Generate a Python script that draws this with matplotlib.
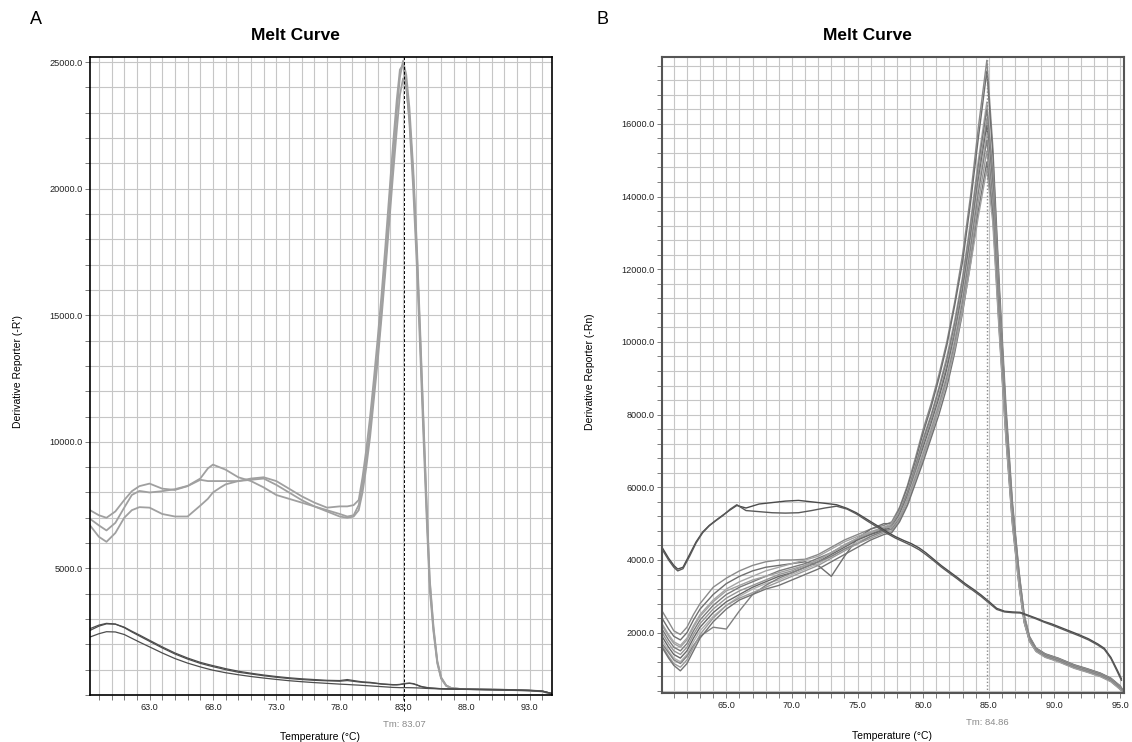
import matplotlib
matplotlib.use("Agg")
import matplotlib.pyplot as plt
from matplotlib.ticker import MultipleLocator, FixedLocator, FormatStrFormatter

plt.rcParams['font.family'] = ['Liberation Sans', 'DejaVu Sans']

# ---------------- panel A data ----------------
temp_a = [58.3, 59.0, 59.6, 60.3, 61.0, 61.6, 62.2, 63.0, 64.0, 65.0, 66.0, 67.0, 67.6, 68.0,
          68.6, 69.0, 70.0, 71.0, 72.0, 73.0, 74.0, 75.0, 76.0, 77.0, 78.0, 78.6, 79.1,
          79.5, 79.8, 80.1, 80.4, 80.7, 81.0, 81.3, 81.6, 81.9, 82.2, 82.5, 82.75, 83.0,
          83.25, 83.5, 83.8, 84.1, 84.35, 84.6, 84.85, 85.1, 85.4, 85.7, 86.0, 86.4, 86.8,
          87.5, 88.5, 90.0, 91.5, 93.0, 94.0, 94.75]

# product peak curves (light)
a_light1 = [6960, 6700, 6500, 6800, 7400, 7900, 8060, 8000, 8050, 8130, 8260, 8550, 8950, 9100,
            8980, 8900, 8600, 8450, 8200, 7900, 7750, 7600, 7450, 7300, 7150, 7050, 7100,
            7500, 8300, 9300, 10500, 12000, 13500, 15200, 17000, 19000, 21000, 23000, 24400, 25050,
            24500, 23200, 20800, 17600, 14400, 11000, 7700, 4600, 2700, 1350, 700, 380, 280,
            240, 230, 220, 200, 180, 150, 40]
a_light2 = [7300, 7100, 7000, 7250, 7700, 8050, 8250, 8350, 8150, 8100, 8250, 8500, 8450, 8450,
            8450, 8450, 8450, 8550, 8600, 8450, 8150, 7850, 7600, 7400, 7450, 7450, 7500,
            7700, 8600, 9700, 11000, 12500, 14100, 15800, 17700, 19700, 21700, 23500, 24700, 24900,
            24100, 22600, 20000, 16800, 13600, 10300, 7100, 4200, 2500, 1250, 650, 360, 270,
            235, 225, 215, 195, 175, 140, 40]
a_light3 = [6700, 6250, 6050, 6400, 7000, 7300, 7420, 7400, 7150, 7050, 7050, 7480, 7750, 8000,
            8200, 8320, 8450, 8500, 8550, 8300, 8000, 7700, 7450, 7250, 7050, 7000, 7050,
            7300, 8000, 9000, 10200, 11700, 13200, 14900, 16700, 18600, 20500, 22300, 23700, 24350,
            24000, 22800, 20500, 17300, 14100, 10800, 7500, 4500, 2600, 1300, 680, 370, 275,
            238, 228, 218, 198, 178, 145, 40]

# negative / background curves (dark)
a_dark1 = [2550, 2720, 2810, 2800, 2680, 2520, 2370, 2160, 1900, 1660, 1460, 1290, 1210, 1160,
           1090, 1040, 940, 860, 790, 730, 680, 640, 610, 580, 570, 610, 570,
           540, 520, 510, 500, 480, 460, 440, 430, 420, 410, 410, 420, 440,
           460, 470, 450, 400, 350, 320, 300, 280, 270, 260, 250, 245, 240,
           235, 225, 215, 200, 180, 150, 60]
a_dark2 = [2620, 2760, 2830, 2800, 2660, 2490, 2330, 2120, 1860, 1620, 1420, 1250, 1170, 1120,
           1050, 1000, 900, 830, 760, 700, 650, 610, 580, 560, 545, 570, 540,
           515, 500, 490, 480, 465, 450, 430, 420, 410, 400, 400, 410, 430,
           450, 460, 440, 390, 340, 310, 290, 275, 265, 255, 248, 242, 238,
           232, 222, 212, 198, 178, 148, 55]
a_dark3 = [2290, 2420, 2500, 2490, 2390, 2240, 2090, 1900, 1660, 1440, 1260, 1110, 1030, 980,
           920, 880, 800, 730, 670, 615, 565, 525, 490, 460, 430, 415, 400,
           390, 380, 370, 360, 350, 340, 330, 320, 310, 300, 295, 290, 290,
           290, 288, 285, 280, 275, 268, 260, 255, 250, 245, 240, 235, 232,
           228, 220, 208, 195, 175, 145, 50]

tm_a = 83.07

# ---------------- panel B data ----------------
temp_b = [60.1, 60.6, 61.0, 61.5, 62.0, 62.5, 63.0, 64.0, 65.0, 66.0, 67.0, 68.0, 69.0, 70.0,
          71.0, 72.0, 73.0, 74.0, 75.0, 76.0, 77.0,
          77.6, 78.2, 78.8, 79.4, 80.0, 80.6, 81.2, 81.8, 82.4, 83.0, 83.6, 84.2, 84.85, 85.3,
          85.8, 86.3, 86.8, 87.3, 87.7, 88.1, 88.6, 89.3, 90.3, 91.5, 92.5, 93.5, 94.3, 95.0, 95.3]

b_g01 = [2600, 2300, 2050, 1950, 2150, 2500, 2800, 3250, 3500, 3700, 3850, 3950, 4000, 4000,
         4020, 4150, 4350, 4550, 4700, 4850, 4950,
         5050, 5450, 6050, 6800, 7600, 8300, 9100, 10000, 11100, 12400, 14000, 15900, 17750, 15400,
         11600, 8300, 5600, 3700, 2500, 1900, 1580, 1420, 1300, 1120, 1010, 890, 750, 540, 380]
b_g02 = [2400, 2100, 1900, 1800, 2000, 2350, 2650, 3050, 3350, 3550, 3700, 3800, 3850, 3900,
         3950, 3850, 3550, 4100, 4600, 4850, 5000,
         5000, 5400, 6000, 6700, 7500, 8200, 9000, 9900, 11000, 12200, 13800, 15600, 17450, 15200,
         11400, 8100, 5500, 3650, 2450, 1880, 1570, 1410, 1290, 1110, 1000, 880, 740, 530, 370]
b_g03 = [2250, 1950, 1750, 1650, 1850, 2200, 2500, 2900, 3200, 3400, 3550, 3700, 3800, 3900,
         4000, 4100, 4300, 4500, 4650, 4780, 4900,
         5000, 5350, 5900, 6600, 7350, 8000, 8750, 9600, 10600, 11800, 13300, 15000, 16600, 14800,
         11200, 8000, 5400, 3600, 2450, 1870, 1560, 1400, 1280, 1100, 990, 870, 730, 520, 360]
b_g04 = [2100, 1800, 1600, 1500, 1700, 2050, 2350, 2750, 3050, 3250, 3400, 3550, 3700, 3800,
         3900, 4050, 4200, 4400, 4580, 4720, 4850,
         4950, 5300, 5850, 6550, 7300, 7950, 8700, 9500, 10500, 11700, 13150, 14850, 16400, 14600,
         11000, 7900, 5300, 3550, 2400, 1850, 1550, 1390, 1270, 1090, 980, 860, 720, 510, 350]
b_g05 = [2000, 1700, 1500, 1400, 1600, 1950, 2250, 2650, 2950, 3150, 3300, 3450, 3600, 3700,
         3850, 4000, 4200, 4420, 4600, 4750, 4880,
         4950, 5300, 5800, 6500, 7200, 7850, 8550, 9350, 10350, 11550, 13000, 14650, 16150, 14400,
         10900, 7800, 5250, 3500, 2380, 1830, 1540, 1380, 1260, 1080, 970, 850, 710, 500, 340]
b_g06 = [1900, 1600, 1400, 1300, 1500, 1850, 2150, 2550, 2850, 3050, 3250, 3400, 3550, 3650,
         3800, 3950, 4150, 4350, 4550, 4700, 4820,
         4900, 5250, 5750, 6400, 7100, 7750, 8450, 9250, 10200, 11400, 12850, 14450, 15950, 14250,
         10800, 7700, 5200, 3450, 2350, 1820, 1530, 1370, 1250, 1070, 960, 840, 700, 490, 330]
b_g07 = [1800, 1500, 1300, 1200, 1400, 1750, 2050, 2450, 2750, 3000, 3200, 3350, 3450, 3600,
         3750, 3900, 4100, 4300, 4500, 4650, 4780,
         4850, 5200, 5700, 6350, 7000, 7650, 8350, 9100, 10100, 11250, 12700, 14300, 15750, 14100,
         10700, 7650, 5150, 3400, 2330, 1800, 1520, 1360, 1240, 1060, 950, 830, 690, 480, 320]
b_g08 = [1700, 1450, 1250, 1150, 1350, 1650, 1900, 2150, 2100, 2600, 3050, 3300, 3500, 3650,
         3800, 3950, 4100, 4300, 4450, 4650, 4800,
         4850, 5150, 5650, 6250, 6900, 7550, 8250, 9000, 9950, 11100, 12550, 14100, 15550, 13950,
         10600, 7600, 5100, 3400, 2320, 1790, 1510, 1350, 1230, 1050, 940, 820, 680, 470, 310]
b_g09 = [1650, 1350, 1150, 1050, 1250, 1600, 1950, 2400, 2750, 2950, 3100, 3250, 3400, 3550,
         3700, 3850, 4050, 4250, 4450, 4600, 4750,
         4800, 5100, 5550, 6150, 6800, 7450, 8150, 8900, 9850, 10950, 12350, 13850, 15250, 13700,
         10400, 7500, 5050, 3350, 2300, 1780, 1500, 1340, 1220, 1040, 930, 810, 670, 460, 300]
b_g10 = [1600, 1300, 1100, 950, 1150, 1500, 1850, 2300, 2650, 2900, 3050, 3200, 3300, 3450,
         3600, 3750, 3950, 4150, 4350, 4550, 4700,
         4750, 5050, 5500, 6100, 6700, 7350, 8000, 8750, 9700, 10800, 12150, 13600, 14950, 13500,
         10300, 7400, 5000, 3300, 2280, 1770, 1490, 1330, 1210, 1030, 920, 800, 660, 450, 290]
b_g11 = [2200, 1900, 1700, 1600, 1800, 2150, 2450, 2850, 3150, 3300, 3450, 3550, 3650, 3750,
         3850, 4000, 4200, 4400, 4600, 4750, 4900,
         4900, 5200, 5650, 6200, 6850, 7500, 8200, 8900, 9800, 10850, 12100, 13450, 14750, 13300,
         10200, 7350, 4950, 3300, 2270, 1760, 1480, 1320, 1200, 1020, 910, 790, 650, 440, 280]

temp_b_dimer = [60.1, 60.6, 61.0, 61.3, 61.7, 62.2, 62.7, 63.2, 63.7, 64.2, 64.8, 65.3, 65.8, 66.5,
                67.5, 68.5, 69.5, 70.5, 71.5, 72.5, 73.4, 74.2, 74.9, 75.8, 76.7, 77.3, 77.9, 78.5,
                79.1, 79.7, 80.2, 80.8, 81.4, 82.0, 82.6, 83.2, 83.8, 84.4, 85.0, 85.6, 86.2, 86.8,
                87.4, 88.0, 88.6, 89.2, 89.8, 90.5, 91.2, 91.9, 92.6, 93.3, 93.8, 94.3, 94.8, 95.1]
b_dimer1 = [4350, 4050, 3850, 3750, 3800, 4150, 4500, 4770, 4950, 5090, 5250, 5380, 5500, 5430,
            5540, 5580, 5620, 5640, 5600, 5560, 5520, 5420, 5300, 5100, 4900, 4760, 4640, 4540,
            4450, 4330, 4200, 4020, 3840, 3680, 3520, 3350, 3200, 3040, 2860, 2670, 2590, 2570,
            2560, 2480, 2400, 2310, 2240, 2140, 2040, 1940, 1830, 1690, 1570, 1320, 960, 730]
b_dimer2 = [4300, 4000, 3800, 3700, 3760, 4100, 4470, 4750, 4940, 5080, 5240, 5400, 5520, 5360,
            5330, 5300, 5290, 5300, 5360, 5430, 5480, 5400, 5270, 5060, 4860, 4720, 4600, 4500,
            4400, 4280, 4150, 3980, 3800, 3640, 3480, 3310, 3160, 3000, 2820, 2640, 2570, 2550,
            2540, 2460, 2380, 2290, 2210, 2110, 2010, 1910, 1800, 1660, 1540, 1290, 920, 690]

tm_b = 84.86

# ---------------- figure ----------------
W, H = 1132, 742
fig = plt.figure(figsize=(W / 100, H / 100), dpi=100)
axA = fig.add_axes([90 / W, 1 - 695 / H, 462 / W, 638 / H])
axB = fig.add_axes([662 / W, 1 - 693 / H, 462 / W, 636 / H])


def setup(ax, xlim, ylim, xmaj, ymaj, xstep, ystep, frame_col, frame_lw):
    ax.set_xlim(*xlim)
    ax.set_ylim(*ylim)
    ax.xaxis.set_major_locator(FixedLocator(xmaj))
    ax.xaxis.set_minor_locator(MultipleLocator(xstep))
    ax.yaxis.set_major_locator(FixedLocator(ymaj))
    ax.yaxis.set_minor_locator(MultipleLocator(ystep))
    ax.xaxis.set_major_formatter(FormatStrFormatter('%.1f'))
    ax.yaxis.set_major_formatter(FormatStrFormatter('%.1f'))
    ax.set_axisbelow(True)
    ax.grid(True, which='both', color='#c6c6c6', linewidth=0.8)
    ax.tick_params(which='both', direction='out', length=3.5, width=0.6, color='#666666',
                   labelsize=6.6, labelcolor='#222222', pad=2)
    for sp in ax.spines.values():
        sp.set_color(frame_col)
        sp.set_linewidth(frame_lw)


setup(axA, (58.3, 94.75), (0, 25200), [63, 68, 73, 78, 83, 88, 93],
      [5000, 10000, 15000, 20000, 25000], 1, 1000, 'black', 1.2)
setup(axB, (60.1, 95.3), (340, 17840), [65, 70, 75, 80, 85, 90, 95],
      [2000, 4000, 6000, 8000, 10000, 12000, 14000, 16000], 1, 400, '#555555', 1.5)

# panel A curves
for ys in (a_light1, a_light2, a_light3):
    axA.plot(temp_a, ys, color='#a0a0a0', lw=1.3)
for ys in (a_dark1, a_dark2, a_dark3):
    axA.plot(temp_a, ys, color='#4d4d4d', lw=0.9)
axA.axvline(tm_a, ymin=-0.025, ymax=1, color='black', lw=0.7, ls=(0, (3, 2)), clip_on=False)

# panel B curves
b_colors = ['#8a8a8a', '#6f6f6f', '#a5a5a5', '#7a7a7a', '#959595', '#686868',
            '#b0b0b0', '#808080', '#9a9a9a', '#737373', '#a0a0a0']
for ys, c in zip((b_g01, b_g02, b_g03, b_g04, b_g05, b_g06, b_g07, b_g08, b_g09, b_g10, b_g11),
                 b_colors):
    axB.plot(temp_b, ys, color=c, lw=1.0)
axB.plot(temp_b_dimer, b_dimer1, color='#4a4a4a', lw=1.0)
axB.plot(temp_b_dimer, b_dimer2, color='#5a5a5a', lw=1.0)
axB.axvline(tm_b, color='#8a8a8a', lw=1.0, ls=(0, (1, 1.5)))

# Tm labels
axA.text(tm_a, -0.047, 'Tm: 83.07', transform=axA.get_xaxis_transform(),
         ha='center', va='center', fontsize=6.8, color='#8a8a8a')
axB.text(tm_b, -0.047, 'Tm: 84.86', transform=axB.get_xaxis_transform(),
         ha='center', va='center', fontsize=6.8, color='#8a8a8a')

# titles, labels, panel letters
fig.text(295 / W, 1 - 35 / H, 'Melt Curve', ha='center', va='center', fontsize=12.5,
         fontweight='bold')
fig.text(867 / W, 1 - 35 / H, 'Melt Curve', ha='center', va='center', fontsize=12.5,
         fontweight='bold')
fig.text(320 / W, 1 - 737 / H, 'Temperature (°C)', ha='center', va='center', fontsize=7.5)
fig.text(892 / W, 1 - 736 / H, 'Temperature (°C)', ha='center', va='center', fontsize=7.5)
fig.text(18 / W, 1 - 372 / H, "Derivative Reporter (-R')", ha='center', va='center',
         fontsize=7.5, rotation=90)
fig.text(590 / W, 1 - 372 / H, "Derivative Reporter (-Rn)", ha='center', va='center',
         fontsize=7.5, rotation=90)
fig.text(36 / W, 1 - 20 / H, 'A', ha='center', va='center', fontsize=13)
fig.text(602 / W, 1 - 20 / H, 'B', ha='center', va='center', fontsize=13)

fig.savefig('out.png', dpi=100)
